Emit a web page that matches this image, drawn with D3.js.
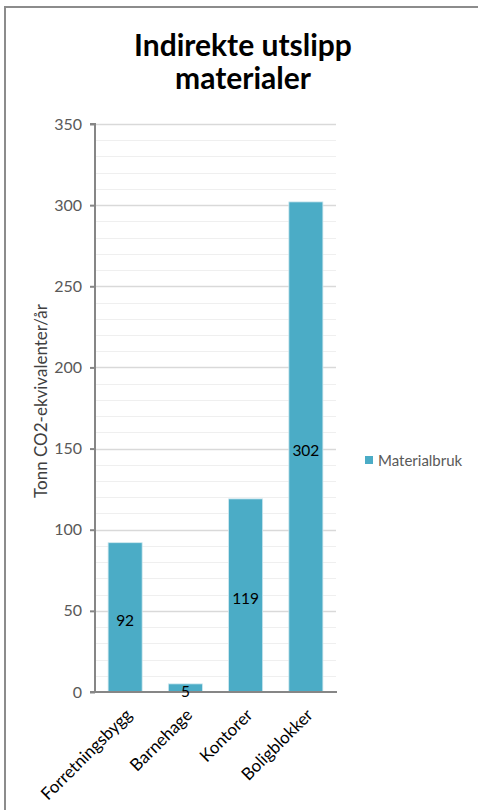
<!DOCTYPE html>
<html>
<head>
<meta charset="utf-8">
<script src="https://cdn.jsdelivr.net/npm/d3@7"></script>
<style>
html,body{margin:0;padding:0;background:#fff;}
svg{display:block;}
</style>
</head>
<body>
<script>
const categories = ["Forretningsbygg", "Barnehage", "Kontorer", "Boligblokker"];
const values = [92, 5, 119, 302];
const seriesName = "Materialbruk";
const yTicks = [0, 50, 100, 150, 200, 250, 300, 350];
const yMinorTicks = d3.range(0, 351, 10);
const titleLines = ["Indirekte utslipp", "materialer"];
const yTitle = "Tonn CO2-ekvivalenter/år";

const W = 478, H = 810;
const FONT = "Lato, 'Open Sans', sans-serif";
const barColor = "#4BACC6";

const svg = d3.select("body").append("svg").attr("width", W).attr("height", H);

// chart frame
svg.append("path")
  .attr("d", `M5,${H} L5,7 L${W},7`)
  .attr("fill", "none").attr("stroke", "#8c8c8c").attr("stroke-width", 2);

const plot = {left: 95, right: 336, top: 124, bottom: 692};

const y = d3.scaleLinear().domain([0, 350]).range([plot.bottom, plot.top]);
const x = d3.scaleBand().domain(categories).range([plot.left, plot.right])
  .paddingInner(0.435).paddingOuter(0.2175);

// minor gridlines
svg.append("g").selectAll("line").data(yMinorTicks.filter(v => v % 50 !== 0)).join("line")
  .attr("x1", plot.left).attr("x2", plot.right)
  .attr("y1", d => Math.round(y(d)) + 0.5).attr("y2", d => Math.round(y(d)) + 0.5)
  .attr("stroke", "#efefef").attr("stroke-width", 1);

// major gridlines
svg.append("g").selectAll("line").data(yTicks.filter(v => v > 0)).join("line")
  .attr("x1", plot.left).attr("x2", plot.right)
  .attr("y1", d => Math.round(y(d)) + 0.5).attr("y2", d => Math.round(y(d)) + 0.5)
  .attr("stroke", "#d9d9d9").attr("stroke-width", 1.5);

// bars
svg.append("g").selectAll("rect").data(values).join("rect")
  .attr("x", (d, i) => x(categories[i]))
  .attr("width", x.bandwidth())
  .attr("y", d => y(d))
  .attr("height", d => y(0) - y(d))
  .attr("fill", barColor)
  .attr("stroke", "#cfe8ef").attr("stroke-width", 0.8);

// y axis
const yAxis = d3.axisLeft(y).tickValues(yTicks).tickSize(5).tickPadding(8);
const gy = svg.append("g").attr("transform", `translate(${plot.left},0)`).call(yAxis);
gy.select(".domain").attr("stroke", "#868686").attr("stroke-width", 2)
  .attr("d", `M-5,${plot.top}H0V${plot.bottom}`);
gy.selectAll(".tick line").attr("stroke", "#868686").attr("stroke-width", 2);
gy.selectAll(".tick text").attr("fill", "#595959").style("font-family", FONT).style("font-size", "16px");

// x axis
const xAxis = d3.axisBottom(x).tickSize(0).tickPadding(0);
const gx = svg.append("g").attr("transform", `translate(0,${plot.bottom})`).call(xAxis);
gx.select(".domain").attr("stroke", "#868686").attr("stroke-width", 2)
  .attr("d", `M${plot.left - 5},0H${plot.right + 1}`);
gx.selectAll(".tick text")
  .attr("fill", "#000")
  .style("font-family", FONT).style("font-size", "17px")
  .attr("text-anchor", "end")
  .attr("dy", null).attr("y", 0)
  .attr("transform", "translate(8,24) rotate(-45)");

// data labels
svg.append("g").selectAll("text").data(values).join("text")
  .attr("x", (d, i) => x(categories[i]) + x.bandwidth() / 2)
  .attr("y", d => (y(d) + y(0)) / 2 + 3)
  .attr("text-anchor", "middle")
  .attr("dominant-baseline", "central")
  .style("font-family", FONT).style("font-size", "15.5px")
  .attr("fill", "#000")
  .text(d => d);

// title
svg.append("g").selectAll("text").data(titleLines).join("text")
  .attr("x", 243).attr("y", (d, i) => 56 + i * 33)
  .attr("text-anchor", "middle")
  .style("font-family", FONT).style("font-size", "30px").style("font-weight", "bold")
  .attr("fill", "#000")
  .text(d => d);

// y axis title
svg.append("text")
  .attr("transform", `translate(47,401) rotate(-90)`)
  .attr("text-anchor", "middle")
  .style("font-family", FONT).style("font-size", "17px")
  .attr("fill", "#404040")
  .text(yTitle);

// legend
const lg = svg.append("g").attr("transform", "translate(365,456)");
lg.append("rect").attr("width", 8).attr("height", 8).attr("fill", barColor);
lg.append("text").attr("x", 13).attr("y", 4).attr("dominant-baseline", "central")
  .style("font-family", FONT).style("font-size", "15px").attr("fill", "#595959")
  .text(seriesName);
</script>
</body>
</html>
